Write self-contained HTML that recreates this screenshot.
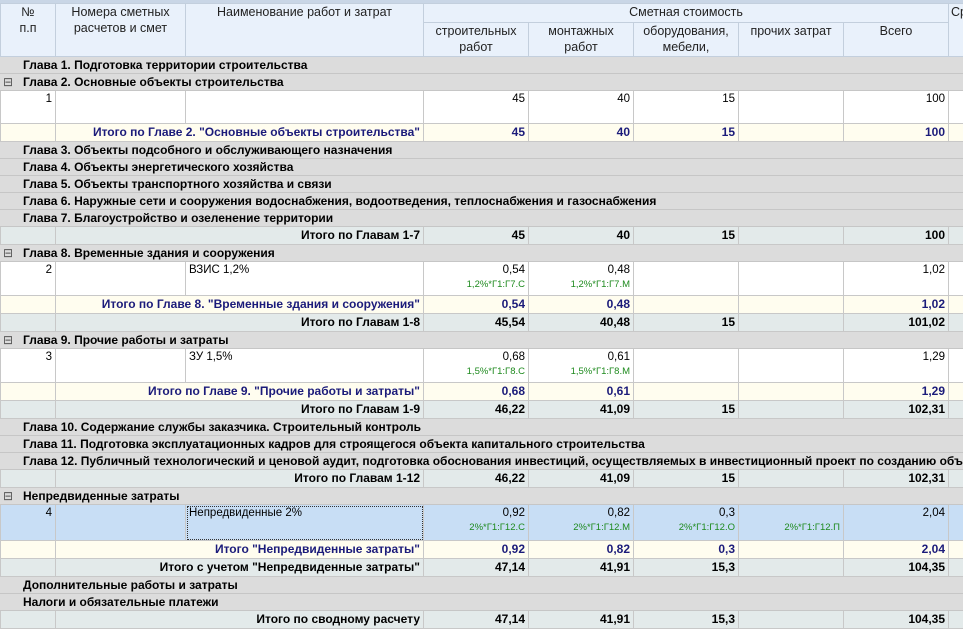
<!DOCTYPE html>
<html><head><meta charset="utf-8"><style>
body{margin:0;width:963px;height:640px;overflow:hidden;background:#fff;font-family:"Liberation Sans","DejaVu Sans",sans-serif;font-size:12px;color:#000}
.top{position:absolute;left:0;top:0;width:963px;height:3px;background:#c9d6e6}
table{position:absolute;left:0;top:3px;border-collapse:collapse;table-layout:fixed;width:963px}
td{border:1px solid #c8c8c8;padding:0 3px;overflow:hidden;white-space:nowrap;vertical-align:top;line-height:15px}
tr.h td{background:#e9f1fb;text-align:center;color:#222;border-color:#c3cfdd;font-size:12.5px;line-height:16px}
tr.g td{background:#dcdcdc;font-weight:bold;border-color:#e8e8e8 #dcdcdc #c6c6c6 #dcdcdc;padding-left:0;line-height:16px}
tr.g td .ic{display:inline-block;width:22px;color:#555;font-weight:normal;text-align:left;padding-left:2px;box-sizing:border-box}
tr.d td{background:#fff;text-align:right;padding-top:1px;font-size:11.5px}
tr.d td.n{text-align:left}
tr.y td{background:#fffdef;font-weight:bold;color:#1b1b7a;text-align:right;line-height:17px}
tr.t td{background:#e3eaea;font-weight:bold;text-align:right;line-height:17px}
tr.s td{background:#c8def5;text-align:right;padding-top:1px;font-size:11.5px}
.f{display:block;color:#1e8a1e;font-size:9.5px;line-height:13px}
.dot{outline:1px dotted #333;outline-offset:-2px}
</style></head><body>
<div class="top"></div>
<table>
<colgroup><col style="width:55px"><col style="width:130px"><col style="width:238px"><col style="width:105px"><col style="width:105px"><col style="width:105px"><col style="width:105px"><col style="width:105px"><col style="width:15px"></colgroup>
<tr class="h" style="height:19px"><td rowspan="2">№<br>п.п</td><td rowspan="2">Номера сметных<br>расчетов и смет</td><td rowspan="2">Наименование работ и затрат</td><td colspan="5">Сметная стоимость</td><td rowspan="2" style="text-align:left;padding:0 2px">Ср</td></tr>
<tr class="h" style="height:34px"><td>строительных<br>работ</td><td>монтажных<br>работ</td><td>оборудования,<br>мебели,</td><td>прочих затрат</td><td>Всего</td></tr>
<tr class="g" style="height:17px"><td colspan="9"><span class="ic"></span>Глава 1. Подготовка территории строительства</td></tr>
<tr class="g" style="height:17px"><td colspan="9"><span class="ic">⊟</span>Глава 2. Основные объекты строительства</td></tr>
<tr class="d" style="height:33px"><td>1</td><td></td><td class="n"></td><td>45</td><td>40</td><td>15</td><td></td><td>100</td><td></td></tr>
<tr class="y" style="height:18px"><td></td><td colspan="2">Итого по Главе 2. "Основные объекты строительства"</td><td>45</td><td>40</td><td>15</td><td></td><td>100</td><td></td></tr>
<tr class="g" style="height:17px"><td colspan="9"><span class="ic"></span>Глава 3. Объекты подсобного и обслуживающего назначения</td></tr>
<tr class="g" style="height:17px"><td colspan="9"><span class="ic"></span>Глава 4. Объекты энергетического хозяйства</td></tr>
<tr class="g" style="height:17px"><td colspan="9"><span class="ic"></span>Глава 5. Объекты транспортного хозяйства и связи</td></tr>
<tr class="g" style="height:17px"><td colspan="9"><span class="ic"></span>Глава 6. Наружные сети и сооружения водоснабжения, водоотведения, теплоснабжения и газоснабжения</td></tr>
<tr class="g" style="height:17px"><td colspan="9"><span class="ic"></span>Глава 7. Благоустройство и озеленение территории</td></tr>
<tr class="t" style="height:18px"><td></td><td colspan="2">Итого по Главам 1-7</td><td>45</td><td>40</td><td>15</td><td></td><td>100</td><td></td></tr>
<tr class="g" style="height:17px"><td colspan="9"><span class="ic">⊟</span>Глава 8. Временные здания и сооружения</td></tr>
<tr class="d" style="height:34px"><td>2</td><td></td><td class="n">ВЗИС 1,2%</td><td>0,54<span class="f">1,2%*Г1:Г7.С</span></td><td>0,48<span class="f">1,2%*Г1:Г7.М</span></td><td></td><td></td><td>1,02</td><td></td></tr>
<tr class="y" style="height:18px"><td></td><td colspan="2">Итого по Главе 8. "Временные здания и сооружения"</td><td>0,54</td><td>0,48</td><td></td><td></td><td>1,02</td><td></td></tr>
<tr class="t" style="height:18px"><td></td><td colspan="2">Итого по Главам 1-8</td><td>45,54</td><td>40,48</td><td>15</td><td></td><td>101,02</td><td></td></tr>
<tr class="g" style="height:17px"><td colspan="9"><span class="ic">⊟</span>Глава 9. Прочие работы и затраты</td></tr>
<tr class="d" style="height:34px"><td>3</td><td></td><td class="n">ЗУ 1,5%</td><td>0,68<span class="f">1,5%*Г1:Г8.С</span></td><td>0,61<span class="f">1,5%*Г1:Г8.М</span></td><td></td><td></td><td>1,29</td><td></td></tr>
<tr class="y" style="height:17px"><td></td><td colspan="2">Итого по Главе 9. "Прочие работы и затраты"</td><td>0,68</td><td>0,61</td><td></td><td></td><td>1,29</td><td></td></tr>
<tr class="t" style="height:18px"><td></td><td colspan="2">Итого по Главам 1-9</td><td>46,22</td><td>41,09</td><td>15</td><td></td><td>102,31</td><td></td></tr>
<tr class="g" style="height:17px"><td colspan="9"><span class="ic"></span>Глава 10. Содержание службы заказчика. Строительный контроль</td></tr>
<tr class="g" style="height:17px"><td colspan="9"><span class="ic"></span>Глава 11. Подготовка эксплуатационных кадров для строящегося объекта капитального строительства</td></tr>
<tr class="g" style="height:17px"><td colspan="9"><span class="ic"></span>Глава 12. Публичный технологический и ценовой аудит, подготовка обоснования инвестиций, осуществляемых в инвестиционный проект по созданию объекта</td></tr>
<tr class="t" style="height:18px"><td></td><td colspan="2">Итого по Главам 1-12</td><td>46,22</td><td>41,09</td><td>15</td><td></td><td>102,31</td><td></td></tr>
<tr class="g" style="height:17px"><td colspan="9"><span class="ic">⊟</span>Непредвиденные затраты</td></tr>
<tr class="s" style="height:36px"><td>4</td><td></td><td class="n dot" style="text-align:left">Непредвиденные 2%</td><td>0,92<span class="f">2%*Г1:Г12.С</span></td><td>0,82<span class="f">2%*Г1:Г12.М</span></td><td>0,3<span class="f">2%*Г1:Г12.О</span></td><td><br><span class="f">2%*Г1:Г12.П</span></td><td>2,04</td><td></td></tr>
<tr class="y" style="height:17px"><td></td><td colspan="2">Итого "Непредвиденные затраты"</td><td>0,92</td><td>0,82</td><td>0,3</td><td></td><td>2,04</td><td></td></tr>
<tr class="t" style="height:18px"><td></td><td colspan="2">Итого с учетом "Непредвиденные затраты"</td><td>47,14</td><td>41,91</td><td>15,3</td><td></td><td>104,35</td><td></td></tr>
<tr class="g" style="height:17px"><td colspan="9"><span class="ic"></span>Дополнительные работы и затраты</td></tr>
<tr class="g" style="height:17px"><td colspan="9"><span class="ic"></span>Налоги и обязательные платежи</td></tr>
<tr class="t" style="height:18px"><td></td><td colspan="2">Итого по сводному расчету</td><td>47,14</td><td>41,91</td><td>15,3</td><td></td><td>104,35</td><td></td></tr>
</table>
</body></html>
